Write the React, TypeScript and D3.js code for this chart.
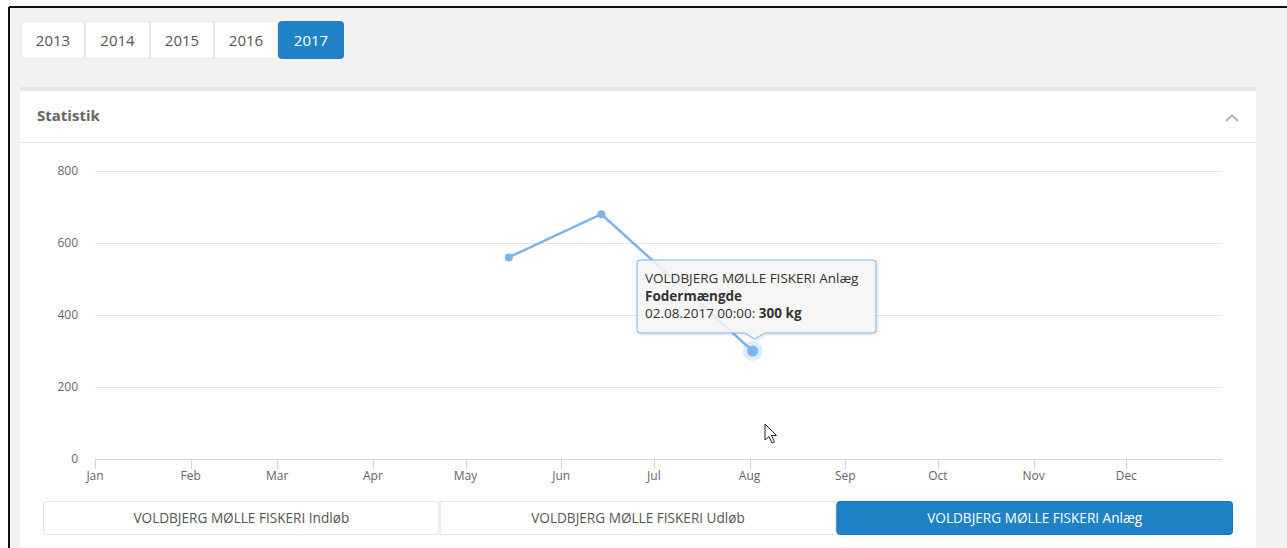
import React from 'react';
import * as d3 from 'd3';

// data
const years = ['2013', '2014', '2015', '2016', '2017'];
const activeYear = '2017';
const sites = [
  'VOLDBJERG MØLLE FISKERI Indløb',
  'VOLDBJERG MØLLE FISKERI Udløb',
  'VOLDBJERG MØLLE FISKERI Anlæg',
];
const activeSite = 2;
const pointDates = ['2017-05-15', '2017-06-14', '2017-08-02'];
const pointValues = [560, 680, 300];
const yTicks = [0, 200, 400, 600, 800];
const monthLabels = ['Jan', 'Feb', 'Mar', 'Apr', 'May', 'Jun', 'Jul', 'Aug', 'Sep', 'Oct', 'Nov', 'Dec'];
const hoverIndex = 2;
const seriesName = 'Fodermængde';
const unit = 'kg';

const FONT = '"Open Sans", "Noto Sans", sans-serif';
const BLUE = '#1f82c6';
const LINE = '#7cb5ec';

export default function App() {
  const W = 1287, H = 548;
  const parse = d3.utcParse('%Y-%m-%d');
  const x = d3.scaleUtc()
    .domain([parse('2017-01-01')!, parse('2018-01-01')!])
    .range([95, 1222]);
  const y = d3.scaleLinear().domain([0, 800]).range([459, 171]);

  const pts = pointDates.map((d, i) => ({ date: parse(d)!, value: pointValues[i] }));
  const line = d3.line<{ date: Date; value: number }>()
    .x(d => x(d.date))
    .y(d => y(d.value));

  const monthTicks = x.ticks(d3.utcMonth.every(1)!).slice(0, 12);

  const hp = pts[hoverIndex];
  const hx = x(hp.date), hy = y(hp.value);

  // tooltip box
  const tb = { x: 637, y: 260, w: 239, h: 73, r: 3 };
  const tipX = hx + 2, tipY = hy - 12;
  const tooltipPath = [
    `M${tb.x + tb.r},${tb.y}`,
    `L${tb.x + tb.w - tb.r},${tb.y}`,
    `Q${tb.x + tb.w},${tb.y} ${tb.x + tb.w},${tb.y + tb.r}`,
    `L${tb.x + tb.w},${tb.y + tb.h - tb.r}`,
    `Q${tb.x + tb.w},${tb.y + tb.h} ${tb.x + tb.w - tb.r},${tb.y + tb.h}`,
    `L${tipX + 10},${tb.y + tb.h}`,
    `L${tipX},${tipY}`,
    `L${tipX - 10},${tb.y + tb.h}`,
    `L${tb.x + tb.r},${tb.y + tb.h}`,
    `Q${tb.x},${tb.y + tb.h} ${tb.x},${tb.y + tb.h - tb.r}`,
    `L${tb.x},${tb.y + tb.r}`,
    `Q${tb.x},${tb.y} ${tb.x + tb.r},${tb.y}`,
    'Z',
  ].join(' ');

  const fmt = d3.utcFormat('%d.%m.%Y %H:%M');

  const yearW = [64, 65, 64, 64, 66];
  let yx = 21;
  const yearBtns = years.map((yr, i) => {
    const b = { yr, x: yx, w: yearW[i] };
    yx += yearW[i];
    return b;
  });

  const siteX = d3.scaleBand<number>().domain(sites.map((_, i) => i)).range([43, 1233]);

  return (
    <svg width={W} height={H} style={{ position: 'absolute', left: 0, top: 0, fontFamily: FONT }}>
      <defs>
        <filter id="sh" x="-10%" y="-10%" width="130%" height="140%">
          <feDropShadow dx="1" dy="1" stdDeviation="1.5" floodColor="#000" floodOpacity="0.15" />
        </filter>
      </defs>
      <rect width={W} height={H} fill="#fff" />
      <rect x={9} y={7} width={W - 9} height={H - 7} fill="#f2f2f2" />
      <line x1={9} y1={7} x2={W} y2={7} stroke="#111" strokeWidth={2} />
      <line x1={9} y1={7} x2={9} y2={H} stroke="#111" strokeWidth={2} />

      {/* year buttons */}
      <g>
        {yearBtns.map((b, i) => {
          const act = b.yr === activeYear;
          return (
            <g key={b.yr}>
              <rect x={b.x + 0.5} y={21.5} width={b.w - 1} height={37} rx={i === 0 || act ? 3 : 0}
                fill={act ? BLUE : '#fff'} stroke={act ? BLUE : '#e8e8e8'} />
              <text x={b.x + b.w / 2} y={46} textAnchor="middle" fontSize={15}
                fill={act ? '#fff' : '#555'}>{b.yr}</text>
            </g>
          );
        })}
      </g>

      {/* card */}
      <rect x={20} y={87} width={1236} height={H - 87} fill="#fff" />
      <rect x={20} y={87} width={1236} height={4} fill="#e5e8eb" />
      <text x={37} y={121} fontSize={15} fontWeight="bold" fill="#666">Statistik</text>
      <path d="M1226,121 L1232,115.5 L1238,121" fill="none" stroke="#b5b5b5" strokeWidth={2.2} />
      <line x1={20} y1={142.5} x2={1256} y2={142.5} stroke="#e3eceb" />

      {/* grid + y labels */}
      {yTicks.map(t => (
        <g key={t}>
          {t > 0 && <line x1={95} x2={1222} y1={Math.round(y(t)) + 0.5} y2={Math.round(y(t)) + 0.5} stroke="#e6e6e6" />}
          <text x={78} y={y(t) + 4} textAnchor="end" fontSize={12} fill="#666">{t}</text>
        </g>
      ))}

      {/* x axis */}
      <line x1={95} x2={1222} y1={459.5} y2={459.5} stroke="#ccd6eb" />
      {monthTicks.map((d, i) => (
        <g key={i}>
          <line x1={Math.round(x(d)) + 0.5} x2={Math.round(x(d)) + 0.5} y1={459} y2={469} stroke="#ccd6eb" />
          <text x={x(d)} y={480} textAnchor="middle" fontSize={12} fill="#666">{monthLabels[i]}</text>
        </g>
      ))}

      {/* series */}
      <path d={line(pts) || ''} fill="none" stroke={LINE} strokeWidth={2.5} strokeLinejoin="round" />
      {pts.map((p, i) => i !== hoverIndex && (
        <circle key={i} cx={x(p.date)} cy={y(p.value)} r={4} fill={LINE} />
      ))}
      <circle cx={hx} cy={hy} r={10} fill={LINE} opacity={0.25} />
      <circle cx={hx} cy={hy} r={5.5} fill={LINE} />

      {/* tooltip */}
      <path d={tooltipPath} fill="rgba(247,247,247,0.85)" stroke={LINE} strokeWidth={1} filter="url(#sh)" />
      <text x={645} y={283} fontSize={13.5} fill="#333">
        <tspan>{sites[activeSite]}</tspan>
        <tspan x={645} dy={17.5} fontWeight="bold">{seriesName}</tspan>
        <tspan x={645} dy={17.5}>{fmt(hp.date)}: </tspan>
        <tspan fontWeight="bold">{`${hp.value} ${unit}`}</tspan>
      </text>

      {/* mouse cursor */}
      <path d="M765,424 L765,440 L769,436.5 L772,443 L774.5,442 L771.5,435.5 L776.5,435.5 Z"
        fill="#fff" stroke="#222" strokeWidth={1} strokeLinejoin="round" />

      {/* site buttons */}
      {sites.map((s, i) => {
        const act = i === activeSite;
        const bx = siteX(i)!;
        const bw = siteX.bandwidth();
        return (
          <g key={s}>
            <rect x={bx + 0.5} y={501.5} width={bw - 1} height={33} rx={act || i === 0 ? 3 : 0}
              fill={act ? BLUE : '#fff'} stroke={act ? '#1a74b5' : '#e3e3e3'} />
            <text x={bx + bw / 2} y={523} textAnchor="middle" fontSize={13.6}
              fill={act ? '#fff' : '#555'}>{s}</text>
          </g>
        );
      })}
    </svg>
  );
}
